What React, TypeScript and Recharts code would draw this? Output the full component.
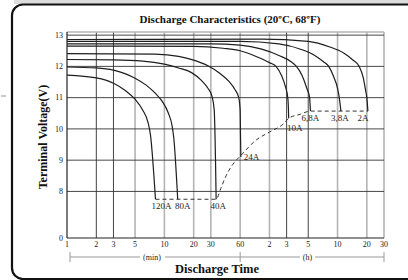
import { LineChart, Line, XAxis, YAxis, ReferenceLine } from 'recharts';

// time axis: minutes, log scale (1 min .. 30 h)
const timeTicks = [1, 2, 3, 5, 10, 20, 30, 60, 120, 180, 300, 600, 1200, 1800];
const timeTickLabels = ['1', '2', '3', '5', '10', '20', '30', '60', '2', '3', '5', '10', '20', '30'];
const darkTimeLines = [2, 3, 180, 300];
const voltTicks = [8, 9, 10, 11, 12, 13];
const axisZero = 6.51; // broken axis: where 0 V sits
const axisTop = 13.1;

const curve120A = [
    { t: 1, v: 11.72 }, { t: 2, v: 11.63 }, { t: 3, v: 11.46 }, { t: 4, v: 11.22 }, { t: 5, v: 10.95 },
    { t: 6, v: 10.6 }, { t: 6.8, v: 10.2 }, { t: 7.2, v: 9.8 }, { t: 8.1, v: 7.75 },
];
const curve80A = [
    { t: 1, v: 11.98 }, { t: 2, v: 11.95 }, { t: 3, v: 11.88 }, { t: 4, v: 11.76 }, { t: 5, v: 11.62 },
    { t: 6.5, v: 11.4 }, { t: 8, v: 11.15 }, { t: 9.5, v: 10.88 }, { t: 11, v: 10.5 }, { t: 12, v: 10.1 },
    { t: 12.5, v: 9.7 }, { t: 13.7, v: 7.75 },
];
const curve40A = [
    { t: 1, v: 12.22 }, { t: 3, v: 12.21 }, { t: 6, v: 12.17 }, { t: 10, v: 12.07 }, { t: 14, v: 11.95 },
    { t: 19, v: 11.8 }, { t: 24, v: 11.55 }, { t: 28, v: 11.3 }, { t: 31, v: 11.02 }, { t: 32.5, v: 10.6 },
    { t: 33, v: 10.0 }, { t: 33.5, v: 9.0 }, { t: 34, v: 7.75 },
];
const curve24A = [
    { t: 1, v: 12.41 }, { t: 8, v: 12.39 }, { t: 14, v: 12.32 }, { t: 20, v: 12.2 }, { t: 28, v: 12.02 },
    { t: 37, v: 11.78 }, { t: 46, v: 11.52 }, { t: 53, v: 11.26 }, { t: 58, v: 11.0 }, { t: 60, v: 10.6 },
    { t: 60.5, v: 9.8 }, { t: 61, v: 9.1 },
];
const curve10A = [
    { t: 1, v: 12.65 }, { t: 20, v: 12.64 }, { t: 40, v: 12.58 }, { t: 60, v: 12.5 }, { t: 90, v: 12.3 },
    { t: 120, v: 12.12 }, { t: 140, v: 12.0 }, { t: 160, v: 11.7 }, { t: 175, v: 11.35 }, { t: 185, v: 11.0 },
    { t: 188, v: 10.6 }, { t: 189, v: 10.34 },
];
const curve6_8A = [
    { t: 1, v: 12.72 }, { t: 30, v: 12.72 }, { t: 60, v: 12.68 }, { t: 100, v: 12.55 }, { t: 150, v: 12.35 },
    { t: 200, v: 12.15 }, { t: 227, v: 12.0 }, { t: 260, v: 11.7 }, { t: 290, v: 11.3 }, { t: 310, v: 11.0 },
    { t: 316, v: 10.57 },
];
const curve3_8A = [
    { t: 1, v: 12.8 }, { t: 60, v: 12.8 }, { t: 150, v: 12.72 }, { t: 250, v: 12.55 }, { t: 350, v: 12.35 },
    { t: 430, v: 12.15 }, { t: 487, v: 12.0 }, { t: 550, v: 11.65 }, { t: 600, v: 11.3 }, { t: 625, v: 11.0 },
    { t: 650, v: 10.57 },
];
const curve2A = [
    { t: 1, v: 12.86 }, { t: 100, v: 12.87 }, { t: 300, v: 12.8 }, { t: 500, v: 12.62 }, { t: 700, v: 12.42 },
    { t: 850, v: 12.22 }, { t: 1000, v: 12.0 }, { t: 1100, v: 11.65 }, { t: 1170, v: 11.2 }, { t: 1200, v: 11.0 },
    { t: 1230, v: 10.57 },
];
// end-of-discharge voltage (dashed)
const cutoffLine = [
    { t: 8.1, v: 7.75 }, { t: 34, v: 7.75 }, { t: 38, v: 8.1 }, { t: 43, v: 8.5 }, { t: 50, v: 8.85 },
    { t: 61, v: 9.15 }, { t: 88, v: 9.65 }, { t: 120, v: 9.9 }, { t: 168, v: 10.17 }, { t: 189, v: 10.34 },
    { t: 250, v: 10.47 }, { t: 316, v: 10.57 }, { t: 650, v: 10.57 }, { t: 1230, v: 10.57 },
];

const series = [
    { name: '120A', data: curve120A },
    { name: '80A', data: curve80A },
    { name: '40A', data: curve40A },
    { name: '24A', data: curve24A },
    { name: '10A', data: curve10A },
    { name: '6,8A', data: curve6_8A },
    { name: '3,8A', data: curve3_8A },
    { name: '2A', data: curve2A },
];

const labelPos: Record<string, { dx: number; dy: number; anchor: string }> = {
    '120A': { dx: 6, dy: 10, anchor: 'middle' },
    '80A': { dx: 5, dy: 10, anchor: 'middle' },
    '40A': { dx: 2, dy: 10, anchor: 'middle' },
    '24A': { dx: 3, dy: 3, anchor: 'start' },
    '10A': { dx: 6, dy: 12.5, anchor: 'middle' },
    '6,8A': { dx: 0, dy: 9.5, anchor: 'middle' },
    '3,8A': { dx: -1, dy: 9.5, anchor: 'middle' },
    '2A': { dx: -5, dy: 9.5, anchor: 'middle' },
};

const W = 408;
const H = 280;
const plotLeft = 67;
const plotRight = 384;
const serif = '"Liberation Serif", "Times New Roman", serif';

// same log mapping the x axis uses, for the (min)/(h) ruler under the axis
const xOf = (t: number) => plotLeft + (Math.log(t) / Math.log(1800)) * (plotRight - plotLeft);

export default function App() {
    const x60 = xOf(60);
    return (
        <div style={{ position: 'absolute', left: 0, top: 0, width: W, height: H, background: '#fff', overflow: 'hidden' }}>
            <LineChart width={W} height={H} margin={{ top: 32, right: W - plotRight, bottom: 12, left: 0 }}>
                <XAxis
                    type="number"
                    dataKey="t"
                    scale="log"
                    domain={[1, 1800]}
                    allowDataOverflow
                    ticks={timeTicks}
                    interval={0}
                    height={30}
                    tickLine={false}
                    tickSize={1}
                    tickMargin={2}
                    axisLine={{ stroke: '#222', strokeWidth: 1.2 }}
                    tick={{ fontSize: 8, fontFamily: serif, fill: '#222' }}
                    tickFormatter={(v: number) => timeTickLabels[timeTicks.indexOf(v)] ?? ''}
                />
                <YAxis
                    type="number"
                    dataKey="v"
                    domain={[axisZero, axisTop]}
                    allowDataOverflow
                    ticks={[axisZero, ...voltTicks]}
                    interval={0}
                    width={plotLeft}
                    tickLine={false}
                    tickSize={2}
                    tickMargin={2}
                    axisLine={{ stroke: '#222', strokeWidth: 1.2 }}
                    tick={{ fontSize: 8, fontFamily: serif, fill: '#222' }}
                    tickFormatter={(v: number) => (v < 7 ? '0' : String(v))}
                />
                {timeTicks.slice(1).map((t) => (
                    <ReferenceLine
                        key={`vx-${t}`}
                        x={t}
                        stroke={darkTimeLines.includes(t) ? '#444' : '#b4b4b4'}
                        strokeWidth={darkTimeLines.includes(t) ? 1 : 1.6}
                    />
                ))}
                <ReferenceLine y={axisTop} stroke="#b4b4b4" strokeWidth={1.4} />
                {voltTicks.map((v) => (
                    <ReferenceLine key={`hy-${v}`} y={v} stroke="#333" strokeWidth={0.9} />
                ))}
                <Line
                    data={cutoffLine}
                    dataKey="v"
                    type="monotone"
                    stroke="#333"
                    strokeWidth={1}
                    strokeDasharray="4 3"
                    dot={false}
                    isAnimationActive={false}
                />
                {series.map((s) => (
                    <Line
                        key={s.name}
                        data={s.data}
                        dataKey="v"
                        name={s.name}
                        type="monotone"
                        stroke="#1e1e1e"
                        strokeWidth={1.2}
                        dot={false}
                        isAnimationActive={false}
                        label={(p: any) => {
                            if (p.index !== s.data.length - 1) return <g key={`l-${s.name}-${p.index}`} />;
                            const pos = labelPos[s.name];
                            return (
                                <text
                                    key={`l-${s.name}`}
                                    x={p.x + pos.dx}
                                    y={p.y + pos.dy}
                                    textAnchor={pos.anchor as any}
                                    fontSize={9}
                                    fontFamily={serif}
                                    fill="#1e1e1e"
                                >
                                    {s.name}
                                </text>
                            );
                        }}
                    />
                ))}
            </LineChart>
            <svg
                width={W}
                height={H}
                style={{ position: 'absolute', left: 0, top: 0, pointerEvents: 'none' }}
            >
                <rect x={14} y={0} width={W} height={4} fill="#dcdcdc" />
                <rect x={12} y={4.5} width={W + 20} height={274.5} rx={11} fill="none" stroke="#111" strokeWidth={2.2} />
                <line x1={1} x2={6} y1={96} y2={96} stroke="#999" strokeWidth={1} />
                <text x={230} y={23} textAnchor="middle" fontSize={11} fontWeight="bold" fontFamily={serif} fill="#111">
                    Discharge Characteristics (20ºC, 68ºF)
                </text>
                <text
                    x={0}
                    y={0}
                    transform="translate(47 137) rotate(-90)"
                    textAnchor="middle"
                    fontSize={12}
                    fontWeight="bold"
                    fontFamily={serif}
                    fill="#111"
                >
                    Terminal Voltage(V)
                </text>
                <text x={217} y={273} textAnchor="middle" fontSize={12.5} fontWeight="bold" fontFamily={serif} fill="#111">
                    Discharge Time
                </text>
                {/* (min) / (h) ruler */}
                <g stroke="#999" strokeWidth={1}>
                    <line x1={70} x2={140} y1={257} y2={257} />
                    <line x1={165} x2={x60} y1={257} y2={257} />
                    <line x1={x60} x2={300} y1={257} y2={257} />
                    <line x1={315} x2={plotRight} y1={257} y2={257} />
                    <line x1={70} x2={70} y1={252} y2={262} />
                    <line x1={x60} x2={x60} y1={252} y2={262} />
                    <line x1={plotRight} x2={plotRight} y1={252} y2={262} />
                </g>
                <text x={152} y={260} textAnchor="middle" fontSize={8} fontFamily={serif} fill="#222">(min)</text>
                <text x={307.5} y={260} textAnchor="middle" fontSize={8} fontFamily={serif} fill="#222">(h)</text>
            </svg>
        </div>
    );
}
